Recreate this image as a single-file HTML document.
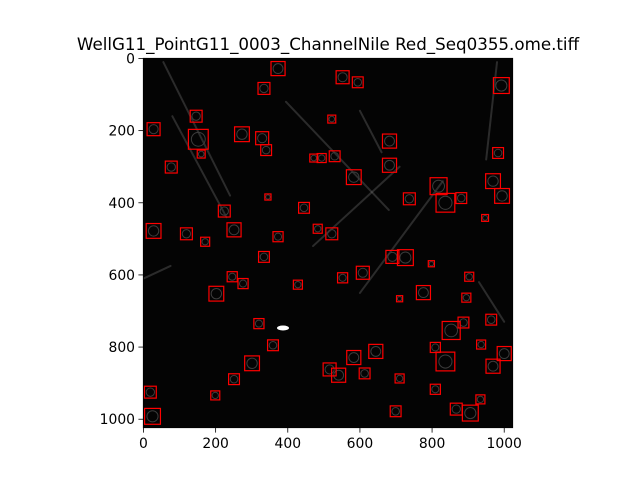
<!DOCTYPE html>
<html><head><meta charset="utf-8">
<style>
html,body{margin:0;padding:0;background:#fff;}
svg{display:block;font-family:"DejaVu Sans","Liberation Sans",sans-serif;}
</style></head>
<body>
<svg id="chart" width="640" height="480" viewBox="0 0 640 480">
<rect width="640" height="480" fill="#fff"/>
<text x="328" y="50" text-anchor="middle" font-size="16.7" fill="#000">WellG11_PointG11_0003_ChannelNile Red_Seq0355.ome.tiff</text>
<defs>
<clipPath id="clip"><rect x="143.3" y="58.3" width="369.4" height="369.4"/></clipPath>
</defs>
<g clip-path="url(#clip)">
<rect x="143.3" y="58.3" width="369.4" height="369.4" fill="#040404"/>
<g id="streaks" stroke="#a0a0a0" stroke-linecap="round" fill="none"></g>
<g id="spots" fill="none" stroke-width="1"></g>
<ellipse cx="283" cy="328" rx="6" ry="2.5" fill="#fff"/>
<g id="boxes"></g>
</g>
<rect x="143.3" y="58.3" width="369.4" height="369.4" fill="none" stroke="#000" stroke-width="0.8"/>
<g id="xaxis"></g>
<g id="yaxis"></g>
</svg>
<script>
// ROI boxes: centre x, centre y, side (image pixel units)
const boxX = [373,334,552,594,992,28,146,152,273,329,340,522,160,77,472,494,530,682,682,583,983,818,837,737,881,969,994,345,445,224,28,119,171,251,483,373,522,947,334,690,726,798,608,552,246,276,428,903,202,776,710,895,320,887,853,964,809,936,359,583,644,837,1000,969,301,516,613,710,251,809,19,199,541,934,906,867,699,25];
const boxY = [28,83,52,66,75,196,160,224,210,221,254,168,265,301,276,276,271,229,296,329,262,354,400,389,387,340,381,384,414,423,478,486,508,475,472,494,486,442,550,550,552,569,594,608,605,624,627,605,652,649,666,663,735,732,754,724,801,793,795,829,812,840,818,853,845,862,873,887,889,917,925,934,878,945,983,972,978,992];
const boxS = [39,33,36,30,44,36,33,55,41,36,30,22,22,33,22,25,30,39,39,41,30,47,52,33,30,41,41,17,30,33,41,33,25,39,25,28,33,19,30,36,44,17,36,28,28,28,25,25,41,39,17,25,28,30,50,30,28,25,30,39,39,52,39,39,41,36,30,25,30,28,33,25,39,25,44,33,30,44];
const xTicks = [0,200,400,600,800,1000];
const yTicks = [0,200,400,600,800,1000];
// streak endpoints (image units) - decorative background features
const streakX1 = [55,230,395,470,600,980,660,930,0];
const streakY1 = [10,440,120,520,650,10,260,620,610];
const streakX2 = [240,80,680,710,830,950,600,1000,75];
const streakY2 = [380,160,420,300,340,280,145,730,575];

const NS="http://www.w3.org/2000/svg";
const X0=143.3, Y0=58.3, W=369.4, N=1024;
function sx(v){return X0+(v+0.5)*W/N;}
function sy(v){return Y0+(v+0.5)*W/N;}
function sl(v){return v*W/N;}

const streaks=document.getElementById('streaks');
for(let i=0;i<streakX1.length;i++){
  const l=document.createElementNS(NS,'line');
  l.setAttribute('x1',sx(streakX1[i]));l.setAttribute('y1',sy(streakY1[i]));
  l.setAttribute('x2',sx(streakX2[i]));l.setAttribute('y2',sy(streakY2[i]));
  l.setAttribute('stroke-width',2);l.setAttribute('stroke-opacity',0.25);
  
  
  streaks.appendChild(l);
}
const spots=document.getElementById('spots');
const boxes=document.getElementById('boxes');
for(let i=0;i<boxX.length;i++){
  const c=document.createElementNS(NS,'circle');
  c.setAttribute('cx',sx(boxX[i]));c.setAttribute('cy',sy(boxY[i]));
  c.setAttribute('r',sl(boxS[i])*0.35);
  c.setAttribute('stroke','#3c3c3c');
  
  
  spots.appendChild(c);
  const r=document.createElementNS(NS,'rect');
  r.setAttribute('x',sx(boxX[i]-boxS[i]/2));r.setAttribute('y',sy(boxY[i]-boxS[i]/2));
  r.setAttribute('width',sl(boxS[i]));r.setAttribute('height',sl(boxS[i]));
  r.setAttribute('fill','none');r.setAttribute('stroke','#ff0000');r.setAttribute('stroke-width','1.2');
  
  
  boxes.appendChild(r);
}
const xa=document.getElementById('xaxis');
xTicks.forEach(t=>{
  const x=sx(t);
  const l=document.createElementNS(NS,'line');
  l.setAttribute('x1',x);l.setAttribute('x2',x);l.setAttribute('y1',427.7);l.setAttribute('y2',432.6);
  l.setAttribute('stroke','#000');l.setAttribute('stroke-width','0.8');
  
  
  xa.appendChild(l);
  const tx=document.createElementNS(NS,'text');
  tx.setAttribute('x',x);tx.setAttribute('y',448);tx.setAttribute('text-anchor','middle');tx.setAttribute('font-size','13.9');
  tx.textContent=t;
  
  
  xa.appendChild(tx);
});
const ya=document.getElementById('yaxis');
yTicks.forEach(t=>{
  const y=sy(t);
  const l=document.createElementNS(NS,'line');
  l.setAttribute('x1',138.4);l.setAttribute('x2',143.3);l.setAttribute('y1',y);l.setAttribute('y2',y);
  l.setAttribute('stroke','#000');l.setAttribute('stroke-width','0.8');
  
  
  ya.appendChild(l);
  const tx=document.createElementNS(NS,'text');
  tx.setAttribute('x',135);tx.setAttribute('y',y+5);tx.setAttribute('text-anchor','end');tx.setAttribute('font-size','13.9');
  tx.textContent=t;
  
  
  ya.appendChild(tx);
});
</script>
</body></html>
